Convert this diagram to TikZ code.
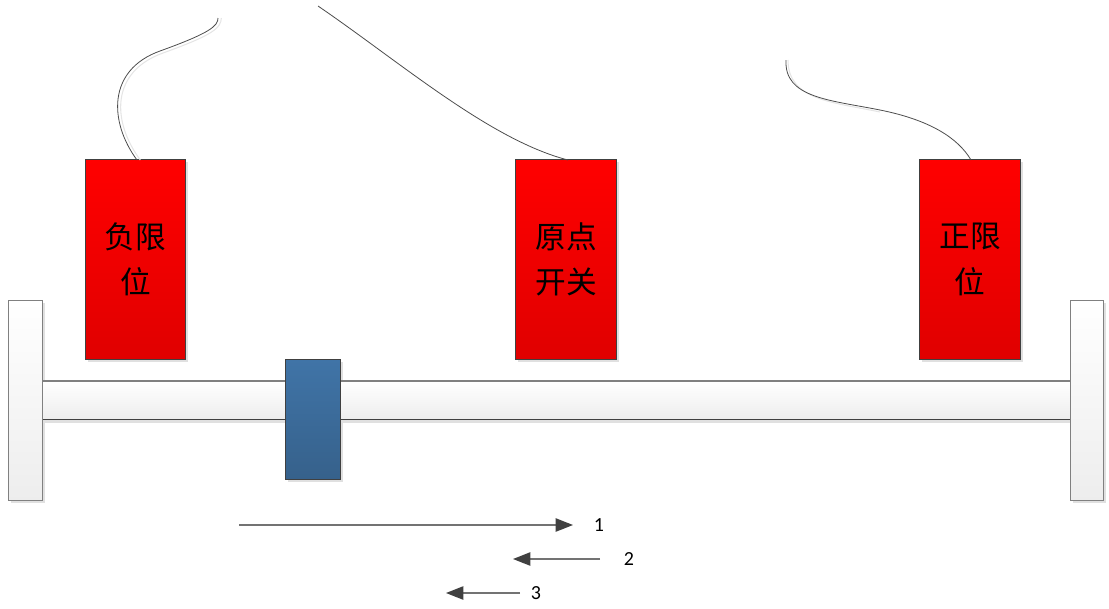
\documentclass[tikz,border=0pt]{standalone}
\usepackage{fontspec}
\newfontfamily\cjk{Noto Sans CJK SC}
\newfontfamily\lbl{Carlito}
\usetikzlibrary{arrows.meta}
\definecolor{redtop}{HTML}{FF0000}
\definecolor{redbot}{HTML}{E00000}
\definecolor{bluetop}{HTML}{4074A7}
\definecolor{bluebot}{HTML}{36618B}
\definecolor{edge}{HTML}{404040}
\definecolor{shadowc}{HTML}{E0E0E0}
\definecolor{tipc}{HTML}{404040}
\tikzset{
  px/.style={x=0.75pt,y=-0.75pt},
  switchbox/.style={draw=edge, line width=0.8pt, top color=redtop, bottom color=redbot, inner sep=0pt, font=\cjk\fontsize{23}{31}\selectfont, align=center},
  platebox/.style={draw=gray, line width=1pt, top color=white, bottom color=black!7, inner sep=0pt},
  sliderbox/.style={draw=edge, line width=0.8pt, top color=bluetop, bottom color=bluebot, inner sep=0pt},
  wire/.style={draw=black!70, line width=0.6pt},
  wireshadow/.style={draw=black!10, line width=0.8pt},
  motion/.style={draw=black!55, line width=1pt, -{Triangle[length=13pt,width=10pt,color=tipc]}},
  numlbl/.style={font=\lbl\fontsize{15}{18}\selectfont, inner sep=0pt}
}
\begin{document}
\begin{tikzpicture}[px]
\useasboundingbox (0,0) rectangle (1109,608);
% shadows
\fill[shadowc] (45,384) rectangle (1072,423);
\fill[shadowc] (11,303) rectangle (45,503);
\fill[shadowc] (1073,303) rectangle (1106,503);
\fill[shadowc] (288,362) rectangle (343,482);
\fill[shadowc] (88,162) rectangle (188,362);
\fill[shadowc] (518,162) rectangle (619,362);
\fill[shadowc] (922,162) rectangle (1023,362);
% rod
\node[draw=none, top color=white, bottom color=black!7, minimum width=1028*0.75pt, minimum height=38*0.75pt, inner sep=0pt, anchor=north west] (rod) at (42,381) {};
\draw[gray, line width=1pt] (rod.north west) -- (rod.north east);
\draw[edge, line width=1pt] (rod.south west) -- (rod.south east);
% end plates
\node[platebox, minimum width=34*0.75pt, minimum height=200*0.75pt, anchor=north west] (lplate) at (8,300) {};
\node[platebox, minimum width=33*0.75pt, minimum height=200*0.75pt, anchor=north west] (rplate) at (1070,300) {};
% slider
\node[sliderbox, minimum width=55*0.75pt, minimum height=120*0.75pt, anchor=north west] (slider) at (285,359) {};
% switches
\node[switchbox, minimum width=100*0.75pt, minimum height=200*0.75pt, anchor=north west] (neg) at (85,159) {\raisebox{3pt}{负限}\\位};
\node[switchbox, minimum width=101*0.75pt, minimum height=200*0.75pt, anchor=north west] (org) at (515,159) {\raisebox{3pt}{原点}\\开关};
\node[switchbox, minimum width=101*0.75pt, minimum height=200*0.75pt, anchor=north west] (pos) at (919,159) {\raisebox{3pt}{正限}\\位};
% wire ends
\coordinate (negw) at (137,160);
\coordinate (negtop) at (218,18);
\coordinate (orgw) at (568,160);
\coordinate (orgtop) at (318,6);
\coordinate (posw) at (971,160);
\coordinate (postop) at (786,60);
% wires
\draw[wireshadow] ([xshift=2.5pt]negw) .. controls (112,122) and (110,72) .. (163,53) .. controls (213,35) and (221,28) .. ([xshift=2.5pt]negtop);
\draw[wire] (negw) .. controls (109,122) and (107,70) .. (160,51) .. controls (210,33) and (218,26) .. (negtop);
\draw[wire] (orgtop) .. controls (400,62) and (490,140) .. (orgw);
\draw[wireshadow] ([xshift=1.5pt]postop) .. controls (788,100) and (832,102) .. (880,112);
\draw[wire] (postop) .. controls (784,98) and (830,100) .. (880,110) .. controls (930,120) and (958,138) .. (posw);
% motion arrows
\coordinate (a1s) at (239,525);
\coordinate (a1e) at (573,525);
\coordinate (a2s) at (600,559);
\coordinate (a2e) at (513,559);
\coordinate (a3s) at (520,593);
\coordinate (a3e) at (446,593);
\draw[motion] (a1s) -- (a1e);
\draw[motion] (a2s) -- (a2e);
\draw[motion] (a3s) -- (a3e);
\node[numlbl] (l1) at (599,525) {1};
\node[numlbl] (l2) at (629,559) {2};
\node[numlbl] (l3) at (536,593) {3};
\end{tikzpicture}
\end{document}
